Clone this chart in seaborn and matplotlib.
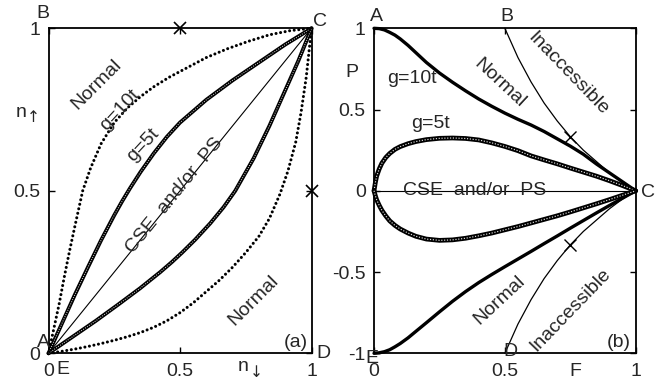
import matplotlib
matplotlib.use("Agg")
import matplotlib.pyplot as plt
import seaborn as sns

sns.set_style("ticks")
plt.rcParams["font.family"] = ["Liberation Sans", "DejaVu Sans"]

# ---- panel (a): n_down vs n_up ----
a10_up_x = [0, 0.02, 0.04, 0.06, 0.08, 0.10, 0.13, 0.16, 0.20, 0.25, 0.30, 0.35, 0.40, 0.46,
            0.53, 0.60, 0.68, 0.76, 0.84, 0.92, 1.0]
a10_up_y = [0, 0.075, 0.15, 0.235, 0.315, 0.39, 0.50, 0.57, 0.645, 0.71, 0.755, 0.79, 0.82,
            0.85, 0.88, 0.91, 0.937, 0.96, 0.98, 0.993, 1.0]
a10_lo_x = [0, 0.05, 0.1, 0.15, 0.2, 0.25, 0.3, 0.35, 0.4, 0.45, 0.5, 0.55, 0.6, 0.65, 0.7,
            0.75, 0.8, 0.84, 0.88, 0.91, 0.94, 0.96, 0.98, 1.0]
a10_lo_y = [0, 0.006, 0.013, 0.021, 0.03, 0.04, 0.051, 0.064, 0.08, 0.1, 0.125, 0.155, 0.19,
            0.225, 0.265, 0.31, 0.36, 0.415, 0.49, 0.56, 0.65, 0.74, 0.85, 1.0]
a5_up_x = [0, 0.05, 0.1, 0.15, 0.2, 0.25, 0.28, 0.31, 0.35, 0.4, 0.45, 0.5, 0.6, 0.7, 0.8,
           0.9, 1.0]
a5_up_y = [0, 0.09, 0.18, 0.265, 0.348, 0.425, 0.468, 0.508, 0.558, 0.615, 0.666, 0.71, 0.78,
           0.84, 0.895, 0.95, 1.0]
a5_lo_x = [0, 0.09, 0.18, 0.265, 0.348, 0.425, 0.468, 0.508, 0.558, 0.615, 0.666, 0.71, 0.78,
           0.84, 0.895, 0.95, 1.0]
a5_lo_y = [0, 0.05, 0.1, 0.15, 0.2, 0.25, 0.28, 0.31, 0.35, 0.4, 0.45, 0.5, 0.6, 0.7, 0.8,
           0.9, 1.0]
diag_x = [0, 1]
diag_y = [0, 1]

# ---- panel (b): F vs P ----
b10_f = [0, 0.02, 0.04, 0.06, 0.08, 0.1, 0.13, 0.16, 0.2, 0.25, 0.3, 0.35, 0.4, 0.45, 0.5,
         0.55, 0.6, 0.65, 0.7, 0.75, 0.8, 0.85, 0.9, 0.95, 1.0]
b10_up_p = [1.0, 0.998, 0.99, 0.975, 0.958, 0.935, 0.895, 0.85, 0.79, 0.725, 0.668, 0.615,
            0.565, 0.52, 0.478, 0.44, 0.405, 0.365, 0.32, 0.275, 0.225, 0.165, 0.11, 0.055, 0.0]
b10_lo_p = [-1.0, -0.997, -0.99, -0.978, -0.96, -0.94, -0.905, -0.865, -0.812, -0.745, -0.68,
            -0.62, -0.565, -0.515, -0.467, -0.42, -0.373, -0.325, -0.278, -0.23, -0.183,
            -0.136, -0.09, -0.045, 0.0]
b5_f = [0, 0.005, 0.01, 0.02, 0.03, 0.045, 0.06, 0.08, 0.1, 0.13, 0.16, 0.2, 0.25, 0.3, 0.35,
        0.4, 0.45, 0.5, 0.55, 0.6, 0.65, 0.7, 0.75, 0.8, 0.85, 0.9, 0.95, 1.0]
b5_up_p = [0, 0.05, 0.09, 0.135, 0.17, 0.205, 0.23, 0.255, 0.272, 0.29, 0.303, 0.315, 0.323,
           0.325, 0.322, 0.313, 0.295, 0.273, 0.247, 0.215, 0.19, 0.166, 0.14, 0.115, 0.09,
           0.062, 0.032, 0.0]
b5_lo_p = [0, -0.03, -0.055, -0.09, -0.12, -0.155, -0.185, -0.213, -0.235, -0.26, -0.28,
           -0.297, -0.305, -0.302, -0.292, -0.277, -0.26, -0.24, -0.22, -0.198, -0.176,
           -0.154, -0.13, -0.105, -0.08, -0.054, -0.027, 0.0]
edge_f = [0.5, 0.55, 0.6, 0.65, 0.7, 0.75, 0.8, 0.85, 0.9, 0.95, 1.0]
edge_up_p = [1.0, 0.82, 0.67, 0.54, 0.43, 0.333, 0.25, 0.18, 0.11, 0.05, 0.0]
edge_lo_p = [-1.0, -0.82, -0.67, -0.54, -0.43, -0.333, -0.25, -0.18, -0.11, -0.05, 0.0]
zero_f = [0, 1]
zero_p = [0, 0]

fig = plt.figure(figsize=(6.6, 3.81), dpi=100)
ax1 = fig.add_axes([0.0735, 0.0727, 0.3985, 0.853])
ax2 = fig.add_axes([0.5667, 0.0727, 0.3965, 0.853])

fs = 14


def line(ax, x, y, **kw):
    sns.lineplot(x=x, y=y, ax=ax, sort=False, estimator=None, color="black",
                 clip_on=False, **kw)


def dotted(ax, x, y, lw, gap):
    line(ax, x, y, lw=lw, linestyle=(0, (0.01, gap)), dash_capstyle="round")


def ringed(ax, x, y, lw):
    line(ax, x, y, lw=lw)
    line(ax, x, y, lw=lw * 0.25, linestyle=(0, (1.0, 1.4)))
    ax.lines[-1].set_color("#dddddd")


def label(ax, x, y, s, **kw):
    ax.text(x, y, s, fontsize=fs, ha="center", va="center", **kw)


def arrow_label(ax, x, y, arrow):
    span = ax.get_ylim()[1] - ax.get_ylim()[0]
    ax.text(x, y, "n", fontsize=fs, ha="right", va="center")
    ax.text(x + 0.004, y - 0.017 * span, arrow, fontsize=fs * 0.8, ha="left", va="center",
            family="DejaVu Sans")


ax1.set_xlim(0, 1)
ax1.set_ylim(0, 1)
ax2.set_xlim(0, 1)
ax2.set_ylim(-1, 1)

# panel (a)
dotted(ax1, a10_up_x, a10_up_y, 2.2, 1.5)
dotted(ax1, a10_lo_x, a10_lo_y, 2.2, 1.5)
ringed(ax1, a5_up_x, a5_up_y, 2.8)
ringed(ax1, a5_lo_x, a5_lo_y, 2.8)
line(ax1, diag_x, diag_y, lw=0.8)
ax1.plot([0.5, 1.0], [1.0, 0.5], "x", color="black", ms=9, mew=1.2, clip_on=False)

label(ax1, -0.021, 1.045, "B")
ax1.text(1.005, 1.02, "C", fontsize=fs, ha="left", va="center")
arrow_label(ax1, -0.085, 0.742, "↑")
label(ax1, -0.018, 0.032, "A")
label(ax1, 0.055, -0.051, "E")
arrow_label(ax1, 0.762, -0.042, "↓")
label(ax1, 1.045, -0.002, "D")
label(ax1, 0.94, 0.034, "(a)")
label(ax1, 0.184, 0.826, "Normal", rotation=45)
label(ax1, 0.272, 0.748, "g=10t", rotation=47)
label(ax1, 0.36, 0.64, "g=5t", rotation=47)
label(ax1, 0.481, 0.487, "CSE  and/or  PS", rotation=51, rotation_mode="anchor")
label(ax1, 0.778, 0.164, "Normal", rotation=45)

ax1.set_xticks([0, 0.5, 1])
ax1.set_xticklabels(["0", "0.5", "1"])
ax1.set_yticks([0, 0.5, 1])
ax1.set_yticklabels(["0", "0.5", "1"])

# panel (b)
line(ax2, zero_f, zero_p, lw=0.8)
line(ax2, edge_f, edge_up_p, lw=0.9)
line(ax2, edge_f, edge_lo_p, lw=0.9)
line(ax2, b10_f, b10_up_p, lw=2.4)
line(ax2, b10_f, b10_lo_p, lw=2.4)
ringed(ax2, b5_f, b5_up_p, 3.4)
ringed(ax2, b5_f, b5_lo_p, 3.4)
ax2.plot([0.75, 0.75], [1 / 3, -1 / 3], "x", color="black", ms=9, mew=1.0, clip_on=False)

label(ax2, 0.011, 1.075, "A")
label(ax2, 0.508, 1.075, "B")
label(ax2, 1.047, -0.01, "C")
label(ax2, -0.084, 0.726, "P")
label(ax2, 0.145, 0.689, "g=10t")
label(ax2, 0.214, 0.413, "g=5t")
label(ax2, 0.481, 0.664, "Normal", rotation=-43)
label(ax2, 0.741, 0.72, "Inaccessible", rotation=-46)
label(ax2, 0.386, 0.0, "CSE  and/or  PS")
label(ax2, 0.481, -0.673, "Normal", rotation=43)
label(ax2, 0.749, -0.734, "Inaccessible", rotation=46)
label(ax2, 0.52, -0.99, "D")
label(ax2, -0.01, -1.03, "E")
label(ax2, 0.768, -1.11, "F")
label(ax2, 0.935, -0.932, "(b)")

ax2.set_xticks([0, 0.5, 1])
ax2.set_xticklabels(["0", "0.5", "1"])
ax2.set_yticks([-1, -0.5, 0, 0.5, 1])
ax2.set_yticklabels(["-1", "-0.5", "0", "0.5", "1"])

for ax in (ax1, ax2):
    ax.set_xlabel("")
    ax.set_ylabel("")
    ax.tick_params(direction="in", length=4, width=1, top=True, right=True,
                   labelsize=fs, color="black")
    ax.tick_params(axis="x", pad=7)
    ax.tick_params(axis="y", pad=6)
    for s in ax.spines.values():
        s.set_linewidth(1.3)
        s.set_color("black")
        s.set_zorder(1)

fig.savefig("out.png", dpi=100)
